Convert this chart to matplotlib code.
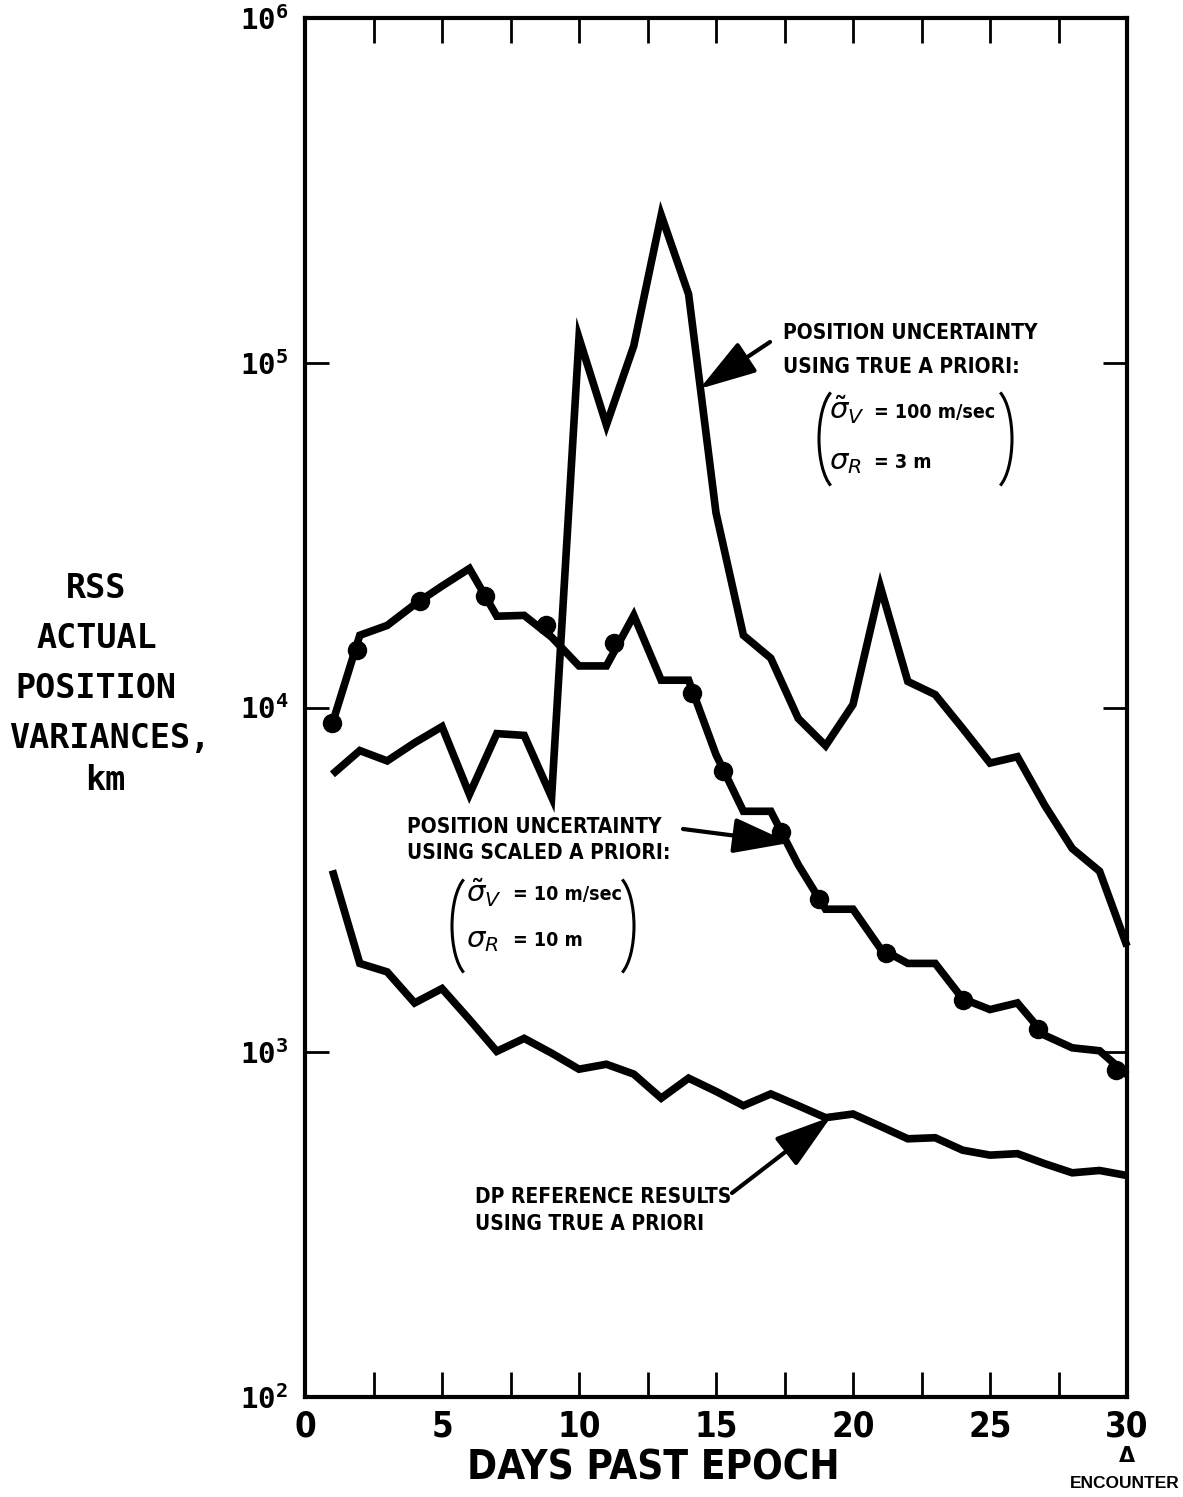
import numpy as np
import matplotlib
matplotlib.use('Agg')
import matplotlib.pyplot as plt
from matplotlib.patches import Arc
from matplotlib.ticker import FixedLocator, NullFormatter, NullLocator, FuncFormatter

# ---------------- data ----------------
days = list(range(1, 31))
true_apriori = [6400, 7500, 7000, 7900, 8800, 5600, 8400, 8300, 5500, 118000,
                66000, 112000, 268000, 158000, 36700, 16200, 13900, 9300, 7750, 10200,
                22400, 11900, 10900, 8700, 6900, 7200, 5200, 3900, 3350, 2030]
scaled_apriori = [9000, 16200, 17300, 19900, 22500, 25300, 18400, 18500, 16000, 13200,
                  13200, 18500, 12000, 12000, 7300, 5000, 5000, 3500, 2600, 2600,
                  2000, 1810, 1810, 1430, 1330, 1390, 1120, 1030, 1010, 860]
dp_reference = [3370, 1810, 1710, 1390, 1530, 1245, 1006, 1097, 994, 893,
                923, 864, 736, 841, 770, 700, 757, 700, 646, 662,
                610, 561, 565, 520, 503, 508, 475, 447, 454, 439]
dot_days = [1.0, 1.9, 4.2, 6.57, 8.8, 11.27, 14.12, 15.26, 17.37, 18.76, 21.2, 24.0, 26.75, 29.6]
dot_values = [9000, 14650, 20300, 21000, 17300, 15350, 11000, 6560, 4350, 2780, 1945, 1420, 1165, 888]
x_ticks = [0, 5, 10, 15, 20, 25, 30]
x_minor = [2.5, 7.5, 12.5, 17.5, 22.5, 27.5]
y_ticks = [1e2, 1e3, 1e4, 1e5, 1e6]
ylabel_lines = ['RSS', 'ACTUAL', 'POSITION', 'VARIANCES,', 'km']

# ---------------- fonts ----------------
plt.rcParams['font.family'] = ['DejaVu Sans']
plt.rcParams['mathtext.fontset'] = 'custom'
plt.rcParams['mathtext.rm'] = 'DejaVu Sans'
plt.rcParams['mathtext.it'] = 'DejaVu Sans:italic'
plt.rcParams['mathtext.bf'] = 'DejaVu Sans:bold'
plt.rcParams['mathtext.tt'] = 'DejaVu Sans Mono:bold'
COND = 'condensed'

W, H = 1183, 1497
fig = plt.figure(figsize=(W / 100, H / 100), dpi=100)


def fx(px):
    return px / W


def fy(py):
    return 1 - py / H


ax = fig.add_axes([fx(305), fy(1397), (1127 - 305) / W, (1397 - 18) / H])
ax.set_yscale('log')
ax.set_xlim(0, 30)
ax.set_ylim(1e2, 1e6)

for s in ax.spines.values():
    s.set_linewidth(3)

ax.xaxis.set_major_locator(FixedLocator(x_ticks))
ax.xaxis.set_minor_locator(FixedLocator(x_minor))
ax.yaxis.set_major_locator(FixedLocator(y_ticks))
ax.yaxis.set_minor_locator(NullLocator())
ax.yaxis.set_major_formatter(FuncFormatter(
    lambda v, pos: r'$\mathtt{10}^{\mathtt{%d}}$' % int(round(np.log10(v)))))
ax.yaxis.set_minor_formatter(NullFormatter())
ax.tick_params(axis='x', which='both', direction='in', top=True, bottom=True,
               length=18, width=2, pad=9)
ax.tick_params(axis='y', which='both', direction='in', left=True, right=True,
               length=17, width=2, pad=12)
for lab in ax.get_xticklabels():
    lab.set_fontsize(25)
    lab.set_fontweight('bold')
    lab.set_fontstretch(COND)
for lab in ax.get_yticklabels():
    lab.set_fontsize(21)

# ---------------- curves ----------------
lk = dict(color='black', lw=5.5, solid_joinstyle='miter', solid_capstyle='butt', clip_on=False)
ax.plot(days, true_apriori, **lk)
ax.plot(days, scaled_apriori, **lk)
ax.plot(days, dp_reference, **lk)
ax.plot(dot_days, dot_values, 'o', color='black', ms=13, clip_on=False)

# ---------------- labels ----------------
ylab_x = [96, 97, 96, 110, 105]
ylab_base = [598, 648, 698, 748, 790]
for t, xp, yp in zip(ylabel_lines, ylab_x, ylab_base):
    fig.text(fx(xp), fy(yp), t, ha='center', va='baseline', fontsize=24,
             fontweight='bold', family=['DejaVu Sans Mono'])

fig.text(fx(653), fy(1468), 'DAYS PAST EPOCH', ha='center', va='center',
         fontsize=29, fontweight='bold', fontstretch=COND)
fig.text(fx(1127), fy(1456), '\u0394', ha='center', va='center', fontsize=15, fontweight='bold')
fig.text(fx(1125), fy(1483), 'ENCOUNTER', ha='center', va='center', fontsize=12.5,
         fontweight='bold', family=['Liberation Sans', 'DejaVu Sans'])

tk = dict(fontsize=15, fontweight='bold', fontstretch=COND, ha='left', va='center')
ek = dict(fontsize=14, fontweight='bold', fontstretch=COND, ha='left', va='center')
ak = dict(arrowstyle='-|>,head_length=1.6,head_width=0.5', lw=3, color='black',
          shrinkA=0, shrinkB=0, mutation_scale=22)
sk = dict(fontsize=21, ha='left', va='center')

# true a priori annotation
fig.text(fx(783), fy(333), 'POSITION UNCERTAINTY', **tk)
fig.text(fx(783), fy(367), 'USING TRUE A PRIORI:', **tk)
ax.annotate('', xy=(14.4, 84000), xycoords='data',
            xytext=(fx(770), fy(342)), textcoords='figure fraction', arrowprops=ak)
fig.text(fx(829), fy(410), r'$\tilde{\sigma}_{V}$', **sk)
fig.text(fx(874), fy(413), '= 100 m/sec', **ek)
fig.text(fx(829), fy(462), r'$\sigma_{R}$', **sk)
fig.text(fx(874), fy(462), '= 3 m', **ek)

# scaled a priori annotation
fig.text(fx(407), fy(827), 'POSITION UNCERTAINTY', **tk)
fig.text(fx(407), fy(853), 'USING SCALED A PRIORI:', **tk)
ax.annotate('', xy=(17.7, 4050), xycoords='data',
            xytext=(fx(683), fy(829)), textcoords='figure fraction', arrowprops=ak)
fig.text(fx(466), fy(893), r'$\tilde{\sigma}_{V}$', **sk)
fig.text(fx(513), fy(895), '= 10 m/sec', **ek)
fig.text(fx(466), fy(940), r'$\sigma_{R}$', **sk)
fig.text(fx(513), fy(940), '= 10 m', **ek)

# DP reference annotation
fig.text(fx(475), fy(1197), 'DP REFERENCE RESULTS', **tk)
fig.text(fx(475), fy(1224), 'USING TRUE A PRIORI', **tk)
ax.annotate('', xy=(19.2, 650), xycoords='data',
            xytext=(fx(732), fy(1193)), textcoords='figure fraction', arrowprops=ak)


# parentheses drawn as arcs (figure inches); edge_px = outermost x of paren
def paren(edge_px, cy_px, h_px, left=True):
    w = 40.0
    he = h_px / 0.92
    if left:
        t1, t2 = 100, 260
        cx = edge_px + w / 2
    else:
        t1, t2 = -80, 80
        cx = edge_px - w / 2
    arc = Arc((cx / 100, (H - cy_px) / 100), w / 100, he / 100, theta1=t1, theta2=t2,
              transform=fig.dpi_scale_trans, lw=2.2, color='black')
    fig.add_artist(arc)


paren(819, 439, 94, left=True)
paren(1012, 439, 94, left=False)
paren(452, 926, 94, left=True)
paren(634, 926, 94, left=False)

fig.savefig('out.png', dpi=100, facecolor='white')
